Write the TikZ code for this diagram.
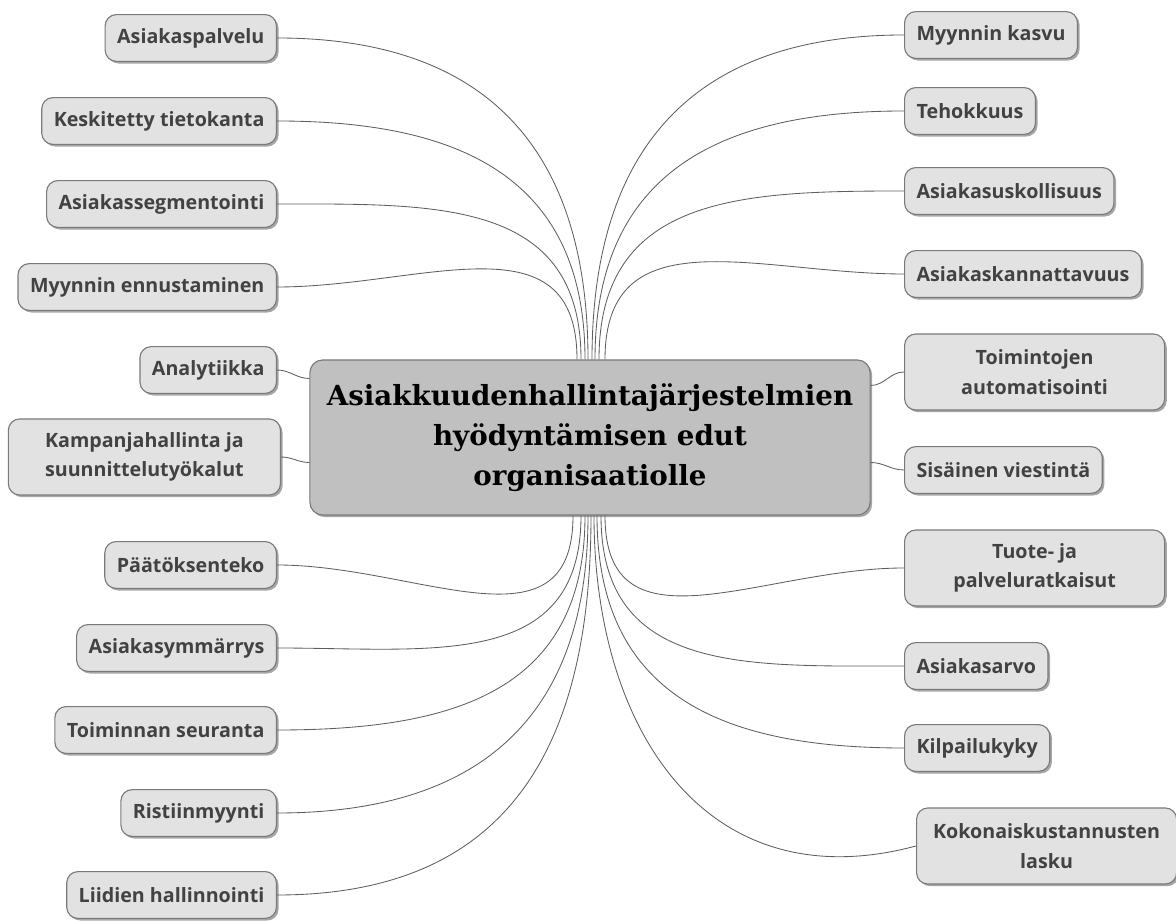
\documentclass[tikz,border=0pt]{standalone}
\usepackage{fontspec}
\setsansfont{Open Sans}
\newfontfamily\hubfont{DejaVu Serif}
\usepackage{tikz}
\usetikzlibrary{calc,shadows}
\definecolor{leaffill}{HTML}{E2E2E2}
\definecolor{hubfill}{HTML}{C0C0C0}
\definecolor{boxline}{HTML}{7A7A7A}
\definecolor{leaftext}{HTML}{424242}
\definecolor{linkline}{HTML}{5E5E5E}

\begin{document}
\begin{tikzpicture}[x = 0.025cm, y = 0.025cm,
        leaf/.style = {draw = boxline, fill = leaffill, line width = 0.8pt, rounded corners = 8pt,
            minimum height = 1.17cm, inner xsep = 0.3cm, align = center, text = leaftext,
            font = \sffamily\bfseries\fontsize{14}{21}\selectfont,
            drop shadow = {shadow xshift = 1.5pt, shadow yshift = -1.5pt, opacity = 0.35, fill = black}},
        leaf2/.style = {leaf, minimum height = 1.9cm, minimum width = 6.5cm},
        hubbox/.style = {draw = boxline, fill = hubfill, line width = 0.8pt, rounded corners = 9pt,
            minimum width = 14cm, minimum height = 3.875cm, align = center, text = black,
            font = \hubfont\bfseries\fontsize{19.7}{28.5}\selectfont,
            drop shadow = {shadow xshift = 1.5pt, shadow yshift = -1.5pt, opacity = 0.35, fill = black}},
        link/.style = {draw = linkline, line width = 0.6pt}]
        \useasboundingbox (0, 0) rectangle (1176, 920);

        \node [hubbox] (hub) at (590, 482.5) {Asiakkuudenhallintajärjestelmien\\hyödyntämisen edut\\organisaatiolle};

        % left side
        \node [leaf, anchor = east] (l1) at (277, 882) {Asiakaspalvelu};
        \node [leaf, anchor = east] (l2) at (277, 799) {Keskitetty tietokanta};
        \node [leaf, anchor = east] (l3) at (277, 716) {Asiakassegmentointi};
        \node [leaf, anchor = east] (l4) at (277, 633) {Myynnin ennustaminen};
        \node [leaf, anchor = east] (l5) at (277, 550) {Analytiikka};
        \node [leaf2, anchor = east, minimum width = 6.8cm] (l6) at (281, 463) {Kampanjahallinta ja\\suunnittelutyökalut};
        \node [leaf, anchor = east] (l7) at (277, 355) {Päätöksenteko};
        \node [leaf, anchor = east] (l8) at (277, 272) {Asiakasymmärrys};
        \node [leaf, anchor = east] (l9) at (277, 190) {Toiminnan seuranta};
        \node [leaf, anchor = east] (l10) at (277, 107) {Ristiinmyynti};
        \node [leaf, anchor = east] (l11) at (277, 25) {Liidien hallinnointi};

        % right side
        \node [leaf, anchor = west] (r1) at (904, 885) {Myynnin kasvu};
        \node [leaf, anchor = west] (r2) at (904, 809) {Tehokkuus};
        \node [leaf, anchor = west] (r3) at (904, 729) {Asiakasuskollisuus};
        \node [leaf, anchor = west] (r4) at (904, 646) {Asiakaskannattavuus};
        \node [leaf2, anchor = west] (r5) at (904, 548) {Toimintojen\\automatisointi};
        \node [leaf, anchor = west] (r6) at (904, 450) {Sisäinen viestintä};
        \node [leaf2, anchor = west] (r7) at (904, 352) {Tuote- ja\\palveluratkaisut};
        \node [leaf, anchor = west] (r8) at (904, 254) {Asiakasarvo};
        \node [leaf, anchor = west] (r9) at (904, 172) {Kilpailukyky};
        \node [leaf2, anchor = west] (r10) at (916, 74) {Kokonaiskustannusten\\lasku};

        % connectors
        \draw [link] (l1.east) to[out = 0, in = 90, looseness = 1.2] ($(hub.north) + (-2, 0)$);
        \draw [link] (l2.east) to[out = 0, in = 90, looseness = 1.2] ($(hub.north) + (-5, 0)$);
        \draw [link] (l3.east) to[out = 0, in = 90, looseness = 1.2] ($(hub.north) + (-9, 0)$);
        \draw [link] (l4.east) to[out = 0, in = 90, looseness = 1.2] ($(hub.north) + (-13, 0)$);
        \draw [link] (l5.east) to[out = 0, in = 180] ($(hub.west) + (0, 59)$);
        \draw [link] (l6.east) to[out = 0, in = 180] ($(hub.west) + (0, -25)$);
        \draw [link] (l7.east) to[out = 0, in = -90, looseness = 1.2] ($(hub.south) + (-17, 0)$);
        \draw [link] (l8.east) to[out = 0, in = -90, looseness = 1.2] ($(hub.south) + (-9, 0)$);
        \draw [link] (l9.east) to[out = 0, in = -90, looseness = 1.2] ($(hub.south) + (-5, 0)$);
        \draw [link] (l10.east) to[out = 0, in = -90, looseness = 1.2] ($(hub.south) + (-2, 0)$);
        \draw [link] (l11.east) to[out = 0, in = -90, looseness = 1.2] ($(hub.south) + (1, 0)$);

        \draw [link] (r1.west) to[out = 180, in = 90, looseness = 1.2] ($(hub.north) + (2, 0)$);
        \draw [link] (r2.west) to[out = 180, in = 90, looseness = 1.2] ($(hub.north) + (5, 0)$);
        \draw [link] (r3.west) to[out = 180, in = 90, looseness = 1.2] ($(hub.north) + (9, 0)$);
        \draw [link] (r4.west) to[out = 180, in = 90, looseness = 1.2] ($(hub.north) + (15, 0)$);
        \draw [link] (r5.west) to[out = 180, in = 0] ($(hub.east) + (0, 52)$);
        \draw [link] (r6.west) to[out = 180, in = 0] ($(hub.east) + (0, -25)$);
        \draw [link] (r7.west) to[out = 180, in = -90, looseness = 1.2] ($(hub.south) + (15, 0)$);
        \draw [link] (r8.west) to[out = 180, in = -90, looseness = 1.2] ($(hub.south) + (11, 0)$);
        \draw [link] (r9.west) to[out = 180, in = -90, looseness = 1.2] ($(hub.south) + (7, 0)$);
        \draw [link] (r10.west) to[out = 195, in = -90, looseness = 1.2] ($(hub.south) + (4, 0)$);
\end{tikzpicture}
\end{document}
